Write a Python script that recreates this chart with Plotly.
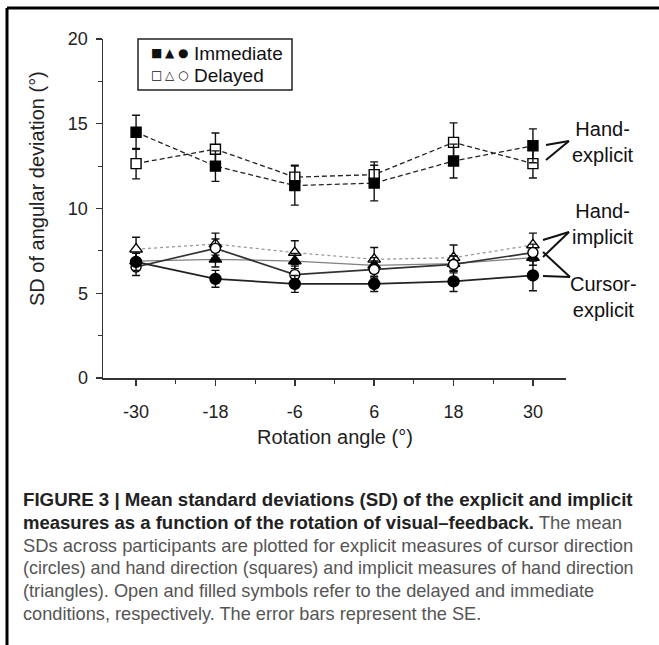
import plotly.graph_objects as go

# ---------------- data ----------------
rotation = [-30, -18, -6, 6, 18, 30]

hand_explicit_imm = [14.5, 12.5, 11.35, 11.5, 12.8, 13.7]
hand_explicit_imm_se = [1.0, 0.9, 1.15, 1.05, 1.0, 1.0]
hand_explicit_del = [12.65, 13.5, 11.85, 12.0, 13.9, 12.65]
hand_explicit_del_se = [0.9, 0.95, 0.7, 0.75, 1.15, 0.85]

hand_implicit_imm = [6.9, 7.0, 6.9, 6.65, 6.75, 7.1]
hand_implicit_imm_se = [0.45, 0.45, 0.45, 0.45, 0.45, 0.45]
hand_implicit_del = [7.6, 7.9, 7.4, 7.0, 7.1, 7.85]
hand_implicit_del_se = [0.7, 0.65, 0.7, 0.7, 0.75, 0.7]

cursor_explicit_imm = [6.85, 5.85, 5.55, 5.55, 5.7, 6.05]
cursor_explicit_imm_se = [0.5, 0.5, 0.5, 0.45, 0.6, 0.9]
cursor_explicit_del = [6.55, 7.65, 6.1, 6.4, 6.7, 7.4]
cursor_explicit_del_se = [0.5, 0.55, 0.5, 0.5, 0.5, 0.5]

x_ticks = [-30, -18, -6, 6, 18, 30]
y_ticks = [0, 5, 10, 15, 20]

# ---------------- layout geometry ----------------
W, H = 659, 645
L, R, T, B = 103, 93, 39, 267
PW, PH = W - L - R, H - T - B


def px(xp):
    return (xp - L) / PW


def py(yp):
    return (H - B - yp) / PH


fig = go.Figure()


def add_series(y, se, symbol, size, filled, line_color, dash, lw):
    fig.add_trace(go.Scatter(
        x=rotation, y=y, mode="lines+markers",
        line=dict(color=line_color, width=lw, dash=dash),
        marker=dict(symbol=symbol, size=size,
                    color="black" if filled else "white",
                    line=dict(color="black", width=1.4)),
        error_y=dict(type="data", array=se, visible=True,
                     color="#111", thickness=1.4, width=4),
        showlegend=False, cliponaxis=False, hoverinfo="skip",
    ))


add_series(hand_implicit_del, hand_implicit_del_se, "triangle-up", 11, False, "#999999", "dot", 1.3)
add_series(hand_implicit_imm, hand_implicit_imm_se, "triangle-up", 11, True, "#808080", "solid", 1.3)
add_series(cursor_explicit_del, cursor_explicit_del_se, "circle", 10, False, "#333333", "solid", 1.7)
add_series(cursor_explicit_imm, cursor_explicit_imm_se, "circle", 11, True, "#222222", "solid", 1.8)
add_series(hand_explicit_del, hand_explicit_del_se, "square", 10, False, "#222222", "5px,3px", 1.3)
add_series(hand_explicit_imm, hand_explicit_imm_se, "square", 10, True, "#222222", "5px,3px", 1.3)

axis_font = dict(family="Liberation Sans, Arial, sans-serif", size=18, color="#222")

fig.update_xaxes(
    range=[-35, 35], tickvals=x_ticks, ticktext=[str(v) for v in x_ticks],
    ticks="outside", ticklen=6, tickwidth=1.4, tickcolor="#333",
    showline=True, linecolor="#333", linewidth=1.5, showgrid=False, zeroline=False,
    tickfont=axis_font, ticklabelstandoff=11,
    minor=dict(tick0=-24, dtick=12, ticks="outside", ticklen=4, tickwidth=1.2, tickcolor="#333"),
)
fig.update_yaxes(
    range=[0, 20], tickvals=y_ticks, ticktext=[str(v) for v in y_ticks],
    ticks="outside", ticklen=6, tickwidth=1.4, tickcolor="#333",
    showline=True, linecolor="#333", linewidth=1.5, showgrid=False, zeroline=False,
    tickfont=axis_font, ticklabelstandoff=4,
    minor=dict(tick0=2.5, dtick=5, ticks="outside", ticklen=4, tickwidth=1.2, tickcolor="#333"),
)

annotations = []
shapes = []

# axis titles
annotations.append(dict(xref="paper", yref="paper", x=px(335), y=py(437),
                        text="Rotation angle (°)", showarrow=False,
                        font=dict(family="Liberation Sans, Arial", size=20, color="#222"),
                        xanchor="center", yanchor="middle"))
annotations.append(dict(xref="paper", yref="paper", x=px(37), y=py(189),
                        text="SD of angular deviation (°)", showarrow=False, textangle=-90,
                        font=dict(family="Liberation Sans, Arial", size=20, color="#222"),
                        xanchor="center", yanchor="middle"))

# legend box
shapes.append(dict(type="rect", xref="paper", yref="paper",
                   x0=px(138), x1=px(292), y0=py(90), y1=py(39),
                   line=dict(color="#222", width=1.5), fillcolor="white"))
sym_font = dict(family="DejaVu Sans", size=12, color="#111")
lab_font = dict(family="Liberation Sans, Arial", size=19, color="#111")
for sx, s_imm, s_del in [(156, "■", "□"), (170, "▲", "△"), (183, "●", "○")]:
    annotations.append(dict(xref="paper", yref="paper", x=px(sx), y=py(53), text=s_imm,
                            showarrow=False, font=sym_font, xanchor="center", yanchor="middle"))
    annotations.append(dict(xref="paper", yref="paper", x=px(sx), y=py(75), text=s_del,
                            showarrow=False, font=sym_font, xanchor="center", yanchor="middle"))
annotations.append(dict(xref="paper", yref="paper", x=px(192), y=py(53), text="Immediate",
                        showarrow=False, font=lab_font, xanchor="left", yanchor="middle"))
annotations.append(dict(xref="paper", yref="paper", x=px(192), y=py(75), text="Delayed",
                        showarrow=False, font=lab_font, xanchor="left", yanchor="middle"))

# right-side labels
lbl_font = dict(family="Liberation Sans, Arial", size=20, color="#111")
for text, yc in [("Hand-<br>explicit", 142), ("Hand-<br>implicit", 224), ("Cursor-<br>explicit", 297)]:
    annotations.append(dict(xref="paper", yref="paper", x=px(603), y=py(yc), text=text,
                            showarrow=False, font=lbl_font, xanchor="center", yanchor="middle",
                            align="center"))

# bracket lines
brackets = [
    ((546, 145), (569, 141)), ((546, 160), (569, 141)),
    ((543, 240), (569, 232)), ((543, 257), (569, 232)),
    ((543, 252), (570, 277)), ((543, 276), (570, 277)),
]
for (x0, y0), (x1, y1) in brackets:
    shapes.append(dict(type="line", xref="paper", yref="paper",
                       x0=px(x0), y0=py(y0), x1=px(x1), y1=py(y1),
                       line=dict(color="#111", width=2)))

# frame (top and left border)
shapes.append(dict(type="line", xref="paper", yref="paper", x0=px(7), x1=px(662),
                   y0=py(8), y1=py(8), line=dict(color="black", width=3)))
shapes.append(dict(type="line", xref="paper", yref="paper", x0=px(7), x1=px(7),
                   y0=py(8), y1=py(650), line=dict(color="black", width=3)))

# caption
cap_lines = [
    ("<b>FIGURE 3 | Mean standard deviations (SD) of the explicit and implicit</b>", 18.7),
    ("<b>measures as a function of the rotation of visual–feedback.</b> <span style='color:#555'>The mean</span>", 18.5),
    ("<span style='color:#555'>SDs across participants are plotted for explicit measures of cursor direction</span>", 18.4),
    ("<span style='color:#555'>(circles) and hand direction (squares) and implicit measures of hand direction</span>", 17.9),
    ("<span style='color:#555'>(triangles). Open and filled symbols refer to the delayed and immediate</span>", 18.2),
    ("<span style='color:#555'>conditions, respectively. The error bars represent the SE.</span>", 18.2),
]
cap_y = [499, 522, 545, 568, 591, 614]
for (t, fs), yc in zip(cap_lines, cap_y):
    annotations.append(dict(xref="paper", yref="paper", x=px(21), y=py(yc), text=t,
                            showarrow=False, xanchor="left", yanchor="middle", align="left",
                            font=dict(family="Liberation Sans, Arial", size=fs, color="#222")))

fig.update_layout(
    width=W, height=H, margin=dict(l=L, r=R, t=T, b=B, autoexpand=False),
    paper_bgcolor="white", plot_bgcolor="white",
    annotations=annotations, shapes=shapes, showlegend=False, hovermode=False,
)

fig.write_html("out.html", config={"displayModeBar": False, "staticPlot": True},
               post_script="document.body.style.margin='0px';document.body.style.overflow='hidden';")
